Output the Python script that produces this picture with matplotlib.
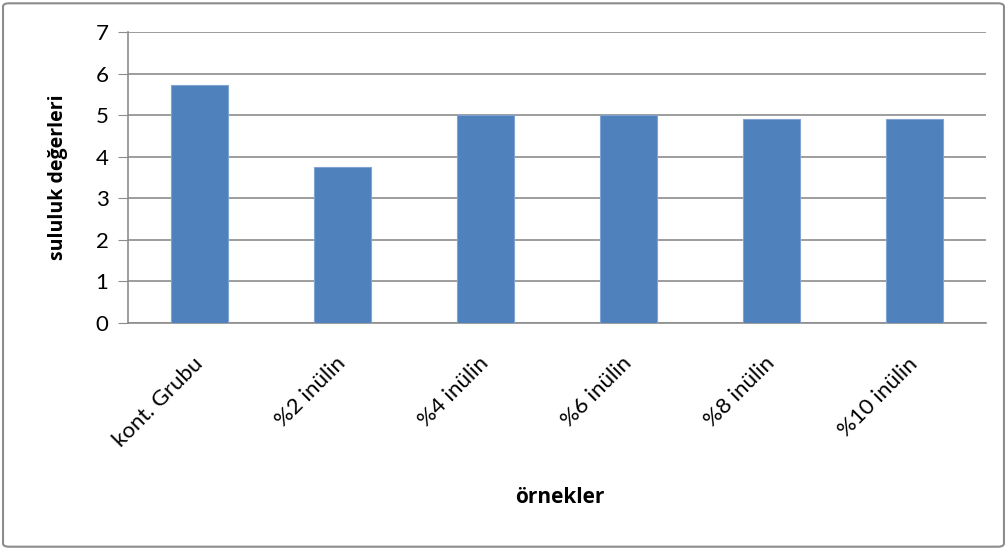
import matplotlib.pyplot as plt
from matplotlib.patches import FancyBboxPatch

# data
categories = ['kont. Grubu', '%2 inülin', '%4 inülin', '%6 inülin', '%8 inülin', '%10 inülin']
values = [5.72, 3.76, 5.0, 5.0, 4.92, 4.92]

plt.rcParams['font.family'] = ['Lato', 'DejaVu Sans']

fig = plt.figure(figsize=(10.08, 5.5), dpi=100)
ax = fig.add_axes([0.127, 0.4127, 0.851, 0.529])

x = range(len(categories))
ax.bar(x, values, width=0.4, color='#4F81BD', edgecolor='#7FA3D3', linewidth=0.8, zorder=3)

ax.set_xlim(-0.5, len(categories) - 0.5)
ax.set_ylim(0, 7)
ax.set_yticks(range(0, 8))
ax.yaxis.grid(True, color='#8C8C8C', linewidth=1.2, zorder=0)
ax.tick_params(axis='y', labelsize=16, length=7, color='#8C8C8C', pad=7)
ax.tick_params(axis='x', length=0, labelsize=16, pad=27)

ax.set_xticks(list(x))
ax.set_xticklabels(categories, rotation=45, ha='right', va='center', rotation_mode='anchor')

for side in ['top', 'right']:
    ax.spines[side].set_visible(False)
ax.spines['left'].set_color('#8C8C8C')
ax.spines['bottom'].set_color('#8C8C8C')
ax.spines['left'].set_linewidth(1.2)
ax.spines['bottom'].set_linewidth(1.2)

ax.set_ylabel('sululuk değerleri', fontsize=14, fontweight='bold', labelpad=20,
              family=['Open Sans', 'DejaVu Sans'])
fig.text(0.555, 0.095, 'örnekler', fontsize=15, fontweight='bold', ha='center', va='center',
         family=['Open Sans', 'DejaVu Sans'])

# outer chart border
border = FancyBboxPatch((0.003, 0.006), 0.993, 0.988, boxstyle='round,pad=0,rounding_size=0.006',
                        transform=fig.transFigure, fill=False, edgecolor='#8C8C8C', linewidth=1.5)
fig.patches.append(border)

fig.savefig('out.png', dpi=100)
